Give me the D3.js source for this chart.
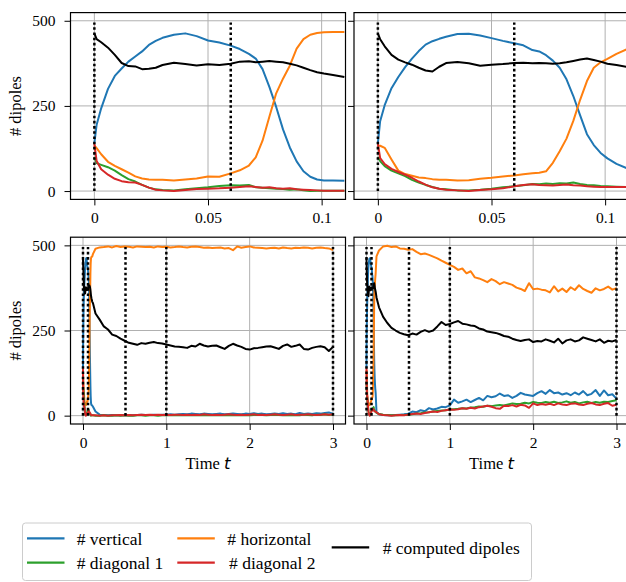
<!DOCTYPE html>
<html lang="en">
<head>
<meta charset="UTF-8">
<title>Dipole counts over time</title>
<script src="https://d3js.org/d3.v7.min.js"></script>
<style>
    body { margin: 0; background: #fff; }
    svg { display: block; }
</style>
</head>
<body>
<svg width="626" height="582" font-family="Liberation Serif"></svg>
<script>
    // time grids: short run (top panels) and the rest of the long run (bottom panels)
    let tFine = [0, 0.001, 0.003, 0.006, 0.009, 0.012, 0.015, 0.018, 0.021, 0.024, 0.027, 0.03,
        0.035, 0.04, 0.045, 0.05, 0.055, 0.06, 0.064, 0.068, 0.071, 0.074,
        0.077, 0.08, 0.083, 0.086, 0.089, 0.092, 0.095, 0.098, 0.101, 0.105, 0.11]
    let tLong = [0.12, 0.15, 0.2, 0.25, 0.3, 0.35, 0.4, 0.45, 0.5, 0.55,
        0.6, 0.65, 0.7, 0.75, 0.8, 0.85, 0.9, 0.95, 1.0, 1.05,
        1.1, 1.15, 1.2, 1.25, 1.3, 1.35, 1.4, 1.45, 1.5, 1.55,
        1.6, 1.65, 1.7, 1.75, 1.8, 1.85, 1.9, 1.95, 2.0, 2.05,
        2.1, 2.15, 2.2, 2.25, 2.3, 2.35, 2.4, 2.45, 2.5, 2.55,
        2.6, 2.65, 2.7, 2.75, 2.8, 2.85, 2.9, 2.95, 3.0]

    // run A (left column)
    let vertFineA = [140, 195, 243, 300, 338, 360, 380, 395, 410, 429, 441, 450,
        459, 463, 455, 442, 436, 427, 417, 403, 389, 358,
        306, 247, 181, 128, 87, 58, 42, 34, 31, 31, 30]
    let horizFineA = [134, 126, 108, 86, 74, 64, 54, 43, 37, 34, 33, 33,
        31, 34, 37, 43, 42, 52, 61, 75, 99, 148,
        218, 287, 330, 368, 418, 446, 459, 464, 466, 467, 467]
    let diag1FineA = [100, 82, 77, 70, 60, 47, 35, 28, 18, 10, 5, 3,
        2, 5, 8, 11, 15, 17, 16, 18, 11, 10,
        8, 7, 6, 4, 5, 2, 0, 1, 1, 1, 1]
    let diag2FineA = [139, 88, 64, 48, 36, 29, 26, 25, 18, 10, 4, 2,
        0, 3, 6, 7, 8, 10, 12, 14, 12, 10,
        11, 8, 7, 8, 5, 4, 3, 2, 1, 1, 1]
    let compFineA = [463, 446, 437, 421, 400, 376, 367, 366, 358, 359, 362, 370,
        377, 373, 369, 372, 370, 374, 380, 381, 378, 380,
        382, 380, 378, 374, 369, 362, 355, 349, 345, 341, 335]

    let vertLongA = [26, 12, 3, 2, 1, 2, 1, 2, 1, 2,
        1, 2, 3, 2, 2, 3, 2, 3, 3, 4,
        3, 4, 5, 4, 6, 5, 4, 6, 5, 4,
        5, 6, 4, 5, 6, 5, 4, 6, 5, 7,
        5, 6, 4, 5, 6, 5, 7, 5, 6, 4,
        8, 5, 6, 5, 7, 6, 8, 9, 6]
    let horizLongA = [475, 490, 494, 495, 497, 494, 498, 495, 497, 496,
        494, 497, 496, 495, 496, 494, 497, 495, 496, 494,
        495, 497, 495, 494, 496, 497, 495, 493, 494, 492,
        493, 494, 491, 492, 486, 497, 493, 495, 497, 494,
        493, 492, 491, 492, 493, 491, 494, 492, 491, 493,
        492, 494, 493, 491, 493, 494, 492, 491, 486]
    let diag1LongA = [1, 0, 0, 1, 0, 0, 1, 0, 1, 0,
        0, 1, 1, 0, 1, 1, 0, 1, 1, 2,
        1, 1, 2, 1, 2, 1, 2, 1, 1, 2,
        1, 2, 1, 2, 1, 2, 1, 2, 1, 2,
        3, 2, 1, 2, 3, 2, 1, 2, 1, 2,
        1, 3, 2, 1, 3, 2, 4, 2, 3]
    let diag2LongA = [1, 1, 0, 1, 0, 1, 1, 2, 1, 2,
        1, 2, 3, 2, 3, 2, 3, 2, 3, 2,
        3, 3, 2, 3, 2, 3, 2, 4, 3, 2,
        3, 2, 3, 4, 3, 2, 3, 2, 3, 4,
        2, 3, 2, 3, 4, 3, 2, 3, 4, 2,
        3, 3, 4, 3, 2, 3, 4, 3, 4]
    let compLongA = [330, 300, 282, 262, 253, 238, 234, 226, 220, 214,
        211, 208, 213, 211, 214, 216, 213, 212, 209, 206,
        203, 202, 201, 199, 205, 203, 211, 206, 203, 205,
        206, 201, 196, 205, 211, 206, 202, 196, 194, 198,
        199, 201, 203, 204, 200, 196, 205, 209, 202, 205,
        209, 196, 194, 199, 202, 204, 201, 190, 202]

    // run B (right column)
    let vertFineB = [140, 205, 252, 302, 335, 364, 389, 411, 430, 440, 447, 453,
        461, 462, 457, 449, 441, 434, 428, 414, 410, 399,
        383, 362, 328, 279, 222, 167, 135, 112, 96, 80, 66]
    let horizFineB = [134, 133, 127, 93, 60, 50, 45, 40, 38, 35, 33, 33,
        31, 32, 36, 39, 43, 46, 49, 52, 54, 58,
        83, 117, 154, 206, 268, 323, 362, 378, 388, 403, 418]
    let diag1FineB = [100, 88, 73, 60, 52, 44, 33, 25, 18, 12, 7, 5,
        2, 2, 4, 7, 11, 14, 17, 21, 20, 22,
        21, 23, 22, 25, 21, 18, 17, 15, 14, 13, 12]
    let diag2FineB = [139, 97, 79, 65, 56, 48, 39, 28, 19, 11, 7, 4,
        2, 0, 3, 5, 8, 14, 18, 20, 18, 17,
        16, 18, 19, 17, 16, 14, 13, 12, 12, 12, 12]
    let compFineB = [463, 446, 425, 400, 386, 378, 371, 362, 354, 351, 365, 376,
        379, 375, 368, 371, 373, 376, 377, 375, 376, 375,
        374, 375, 378, 382, 386, 389, 385, 380, 374, 370, 364]

    let vertLongB = [10, 4, 2, 1, 1, 2, 3, 4, 6, 12,
        10, 16, 13, 22, 18, 21, 26, 25, 30, 47,
        38, 42, 47, 40, 46, 52, 45, 58, 54, 57,
        65, 58, 60, 52, 58, 67, 62, 60, 58, 66,
        72, 64, 75, 66, 68, 62, 66, 60, 68, 62,
        72, 60, 64, 75, 58, 74, 60, 63, 50]
    let horizLongB = [468, 485, 497, 499, 495, 497, 491, 490, 487, 489,
        481, 474, 476, 472, 467, 462, 455, 449, 443, 437,
        428, 432, 418, 424, 406, 403, 398, 392, 401, 395,
        386, 392, 388, 384, 376, 372, 366, 389, 371, 373,
        370, 368, 362, 380, 365, 373, 363, 377, 369, 383,
        372, 366, 361, 374, 368, 372, 379, 370, 374]
    let diag1LongB = [8, 5, 3, 2, 1, 1, 2, 2, 3, 4,
        6, 7, 9, 10, 12, 14, 15, 16, 18, 19,
        20, 22, 21, 24, 25, 27, 26, 29, 28, 30,
        31, 30, 33, 36, 34, 35, 38, 36, 40, 38,
        37, 40, 38, 41, 37, 39, 42, 38, 40, 36,
        39, 41, 37, 40, 38, 41, 40, 43, 45]
    let diag2LongB = [10, 4, 2, 1, 0, 1, 2, 1, 3, 5,
        6, 5, 8, 10, 12, 11, 14, 16, 18, 17,
        19, 22, 20, 23, 21, 25, 27, 29, 26, 22,
        20, 29, 28, 31, 27, 32, 30, 23, 36, 31,
        34, 32, 35, 31, 36, 33, 31, 35, 36, 33,
        31, 35, 37, 33, 31, 35, 37, 29, 32]
    let compLongB = [347, 318, 290, 272, 258, 250, 243, 239, 236, 241,
        238, 246, 251, 246, 250, 262, 275, 266, 269, 274,
        278, 270, 268, 265, 263, 256, 253, 247, 245, 243,
        239, 234, 232, 226, 222, 219, 222, 224, 216, 219,
        218, 224, 220, 215, 226, 212, 221, 224, 218, 221,
        230, 226, 222, 218, 224, 214, 220, 218, 222]

    let seriesColors = ['#1f77b4', '#ff7f0e', '#2ca02c', '#d62728', '#000000']
    let yTicks = [0, 250, 500]
    let xTicksShort = [0, 0.05, 0.1]
    let xTicksLong = [0, 1, 2, 3]
    let marksShort = [0, 0.06]
    let marksLong = [0, 0.06, 0.51, 1, 3]

    let runAFine = [vertFineA, horizFineA, diag1FineA, diag2FineA, compFineA]
    let runALong = [vertLongA, horizLongA, diag1LongA, diag2LongA, compLongA]
    let runBFine = [vertFineB, horizFineB, diag1FineB, diag2FineB, compFineB]
    let runBLong = [vertLongB, horizLongB, diag1LongB, diag2LongB, compLongB]

    let serif = 'Liberation Serif'
    let svg = d3.select('svg')
    let panelW = 275
    let panelH = 186.8

    let panels = [
        {id: 'tl', left: 70.5, top: 12.6, domain: [-0.0105, 0.1105], xTicks: xTicksShort, marks: marksShort, fine: runAFine, long: null, yLab: true},
        {id: 'tr', left: 354, top: 12.6, domain: [-0.0105, 0.1105], xTicks: xTicksShort, marks: marksShort, fine: runBFine, long: null, yLab: false},
        {id: 'bl', left: 70.5, top: 237.2, domain: [-0.15, 3.15], xTicks: xTicksLong, marks: marksLong, fine: runAFine, long: runALong, yLab: true},
        {id: 'br', left: 354, top: 237.2, domain: [-0.15, 3.15], xTicks: xTicksLong, marks: marksLong, fine: runBFine, long: runBLong, yLab: false}
    ]

    let defs = svg.append('defs')

    panels.forEach(function (p) {
        let x = d3.scaleLinear().domain(p.domain).range([p.left, p.left + panelW])
        let y = d3.scaleLinear().domain([-24.5, 524]).range([p.top + panelH, p.top])
        let g = svg.append('g')

        defs.append('clipPath').attr('id', 'clip-' + p.id)
            .append('rect')
            .attr('x', p.left).attr('y', p.top)
            .attr('width', panelW).attr('height', panelH)

        // grid
        g.append('g').selectAll('line').data(p.xTicks).enter().append('line')
            .attr('x1', d => x(d)).attr('x2', d => x(d))
            .attr('y1', p.top).attr('y2', p.top + panelH)
            .attr('stroke', '#b0b0b0').attr('stroke-width', 1)
        g.append('g').selectAll('line').data(yTicks).enter().append('line')
            .attr('x1', p.left).attr('x2', p.left + panelW)
            .attr('y1', d => y(d)).attr('y2', d => y(d))
            .attr('stroke', '#b0b0b0').attr('stroke-width', 1)

        let plot = g.append('g').attr('clip-path', 'url(#clip-' + p.id + ')')

        let line = d3.line().x(d => x(d[0])).y(d => y(d[1]))
        let times = p.long ? tFine.concat(tLong) : tFine
        p.fine.forEach(function (vals, i) {
            let all = p.long ? vals.concat(p.long[i]) : vals
            plot.append('path')
                .datum(d3.zip(times, all))
                .attr('fill', 'none')
                .attr('stroke', seriesColors[i])
                .attr('stroke-width', 2)
                .attr('stroke-linejoin', 'round')
                .attr('d', line)
        })

        // dotted markers
        plot.append('g').selectAll('line').data(p.marks).enter().append('line')
            .attr('x1', d => x(d)).attr('x2', d => x(d))
            .attr('y1', y(0)).attr('y2', y(495))
            .attr('stroke', '#000').attr('stroke-width', 2.5)
            .attr('stroke-dasharray', '2.6,2.6')

        // axes
        let yAxis = g.append('g')
            .attr('transform', `translate(${p.left},0)`)
            .call(d3.axisLeft(y).tickValues(yTicks).tickSize(6).tickPadding(9)
                .tickFormat(d => p.yLab ? String(d) : ''))
        let xAxis = g.append('g')
            .attr('transform', `translate(0,${p.top + panelH})`)
            .call(d3.axisBottom(x).tickValues(p.xTicks).tickSize(6).tickPadding(7)
                .tickFormat(d => String(d)))
        ;[yAxis, xAxis].forEach(function (a) {
            a.select('.domain').remove()
            a.attr('font-family', serif).attr('font-size', null)
            a.selectAll('line').attr('stroke', '#000').attr('stroke-width', 1)
            a.selectAll('text').attr('fill', '#000').attr('font-family', serif).style('font-size', '15.5px')
        })

        g.append('rect')
            .attr('x', p.left).attr('y', p.top)
            .attr('width', panelW).attr('height', panelH)
            .attr('fill', 'none').attr('stroke', '#000').attr('stroke-width', 1.2)

        if (p.yLab) {
            g.append('text')
                .attr('transform', `translate(20.5,${p.top + panelH / 2}) rotate(-90)`)
                .attr('text-anchor', 'middle')
                .attr('font-family', serif)
                .style('font-size', '16.5px')
                .text('# dipoles')
        }
        if (p.long) {
            let lab = g.append('text')
                .attr('x', p.left + panelW / 2).attr('y', 469.3)
                .attr('text-anchor', 'middle')
                .attr('font-family', serif)
                .style('font-size', '16.5px')
            lab.append('tspan').text('Time ')
            lab.append('tspan').attr('font-family', 'DejaVu Sans').attr('font-style', 'italic').text('t')
        }
    })

    // legend
    let legendItems = [
        {name: '# vertical', color: seriesColors[0], x: 27, y: 538.3, tx: 76.7, ty: 545},
        {name: '# diagonal 1', color: seriesColors[2], x: 27, y: 562.7, tx: 76.7, ty: 569},
        {name: '# horizontal', color: seriesColors[1], x: 177.3, y: 538.3, tx: 227.3, ty: 545},
        {name: '# diagonal 2', color: seriesColors[3], x: 177.3, y: 562.7, tx: 229, ty: 569},
        {name: '# computed dipoles', color: seriesColors[4], x: 331.7, y: 547.3, tx: 382.7, ty: 553.8}
    ]
    let legend = svg.append('g')
    legend.append('rect')
        .attr('x', 22.5).attr('y', 523).attr('width', 509).attr('height', 57.5)
        .attr('rx', 3).attr('fill', '#fff').attr('stroke', '#cccccc').attr('stroke-width', 1)
    let items = legend.selectAll('.item').data(legendItems).enter().append('g')
    items.append('line')
        .attr('x1', d => d.x).attr('x2', d => d.x + 37.5)
        .attr('y1', d => d.y).attr('y2', d => d.y)
        .attr('stroke', d => d.color).attr('stroke-width', 2.2)
    items.append('text')
        .attr('x', d => d.tx).attr('y', d => d.ty)
        .attr('font-family', serif)
        .style('font-size', '17.5px')
        .text(d => d.name)
</script>
</body>
</html>
